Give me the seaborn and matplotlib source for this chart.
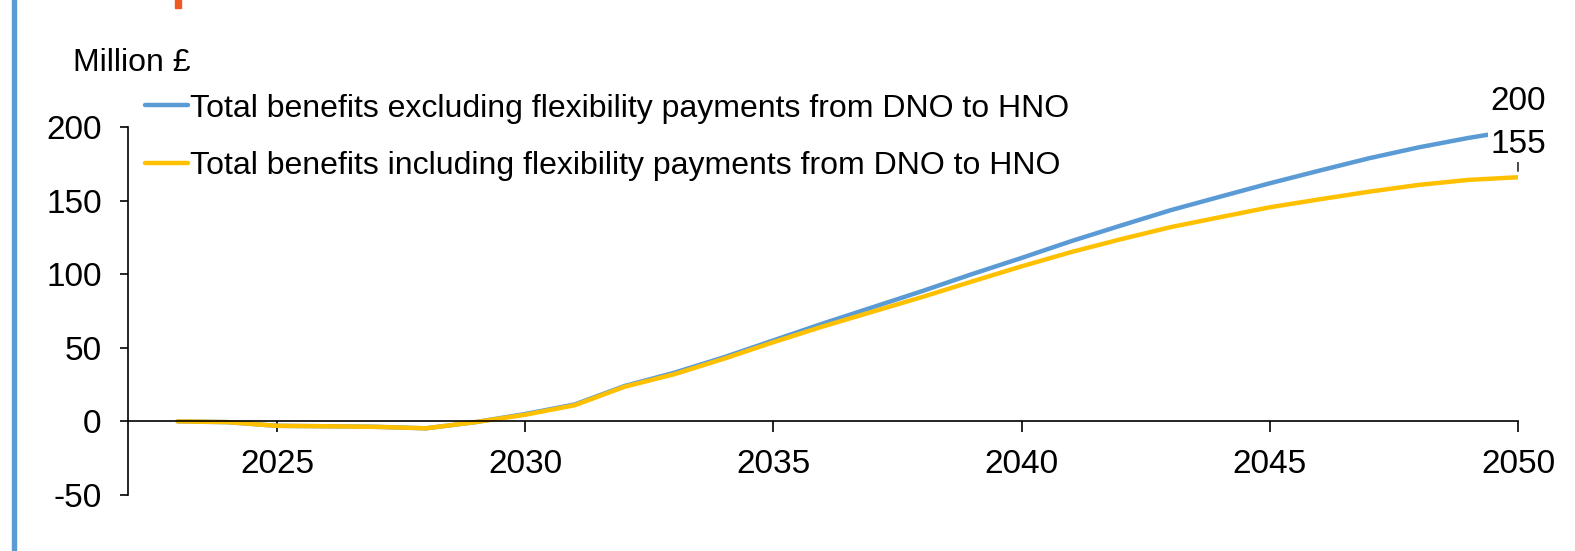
import matplotlib
matplotlib.use('Agg')
import matplotlib.pyplot as plt
from matplotlib.patches import Rectangle
import numpy as np
import pandas as pd
import seaborn as sns


years = list(range(2023, 2051))
excl_flex = [0, -0.5, -3, -3.3, -3.7, -4.7, -0.5, 5, 11.5, 24, 33, 43.5, 55, 66.5, 77.5,
             88.5, 100, 111, 122.4, 133, 143.4, 152.6, 161.7, 170.3, 178.7, 186.1, 192.5, 198]
incl_flex = [0, -0.5, -3, -3.3, -3.7, -4.7, -0.5, 4.5, 11, 23.5, 32, 42.5, 53.8, 64.5, 74.5,
             84.5, 95, 105.3, 115, 123.7, 131.9, 138.7, 145.4, 150.8, 156, 160.6, 164, 165.8]
series_names = ['Total benefits excluding flexibility payments from DNO to HNO',
                'Total benefits including flexibility payments from DNO to HNO']
end_labels = ['200', '155']
x_ticks = [2025, 2030, 2035, 2040, 2045, 2050]
y_ticks = [-50, 0, 50, 100, 150, 200]

BLUE = '#5B9BD5'
YELLOW = '#FFC000'

df = pd.DataFrame({
    'Year': years * 2,
    'Value': excl_flex + incl_flex,
    'Series': [series_names[0]] * len(years) + [series_names[1]] * len(years),
})

sns.set_style('white')
plt.rcParams['font.family'] = ['Liberation Sans', 'DejaVu Sans']
plt.rcParams['axes.unicode_minus'] = False
plt.rcParams['text.color'] = 'black'
plt.rcParams['xtick.color'] = 'black'
plt.rcParams['ytick.color'] = 'black'

fig = plt.figure(figsize=(15.75, 5.51), dpi=100)
ax = fig.add_axes([0.0813, 0.1016, 0.8825, 0.6681])

sns.lineplot(data=df, x='Year', y='Value', hue='Series', palette=[BLUE, YELLOW],
             linewidth=3.2, legend=False, ax=ax)

ax.set_xlim(2022, 2050)
ax.set_ylim(-50, 200)
ax.set_xticks(x_ticks)
ax.set_yticks(y_ticks)
ax.set_xlabel('')
ax.set_ylabel('')

for side in ['top', 'right']:
    ax.spines[side].set_visible(False)
ax.spines['bottom'].set_position(('data', 0))
for side in ['left', 'bottom']:
    ax.spines[side].set_color('black')
    ax.spines[side].set_linewidth(1.2)

ax.tick_params(axis='y', direction='out', length=6, width=1.2, pad=13, labelsize=24, left=True)
ax.tick_params(axis='x', direction='out', length=8, width=1.2, pad=12, labelsize=24, bottom=True)

# end-of-line data labels
ax.text(2050, 217, end_labels[0], ha='center', va='center', fontsize=24, clip_on=False)
ax.annotate(end_labels[1], xy=(2050, 168), xytext=(2050, 188), ha='center', va='center',
            fontsize=24, annotation_clip=False,
            bbox=dict(boxstyle='square,pad=0.05', fc='white', ec='none'),
            arrowprops=dict(arrowstyle='-', lw=1, color='black', shrinkA=0, shrinkB=2))

handles = ax.get_lines()[:2]
fig.legend(handles, series_names, loc='upper left', bbox_to_anchor=(0.092, 0.83),
           frameon=False, fontsize=23, handlelength=1.35, handletextpad=0.05,
           labelspacing=0.85, borderpad=0, borderaxespad=0)

fig.text(73 / 1575, 1 - 63 / 551, 'Million £', fontsize=23, va='center', ha='left')

# left accent bar and clipped title mark
fig.patches.append(Rectangle((12 / 1575, 0), 4 / 1575, 1, transform=fig.transFigure,
                             color=BLUE, zorder=0))
fig.patches.append(Rectangle((175 / 1575, 1 - 8 / 551), 6 / 1575, 8 / 551,
                             transform=fig.transFigure, color='#F05A22', zorder=0))

fig.savefig('out.png', dpi=100)
